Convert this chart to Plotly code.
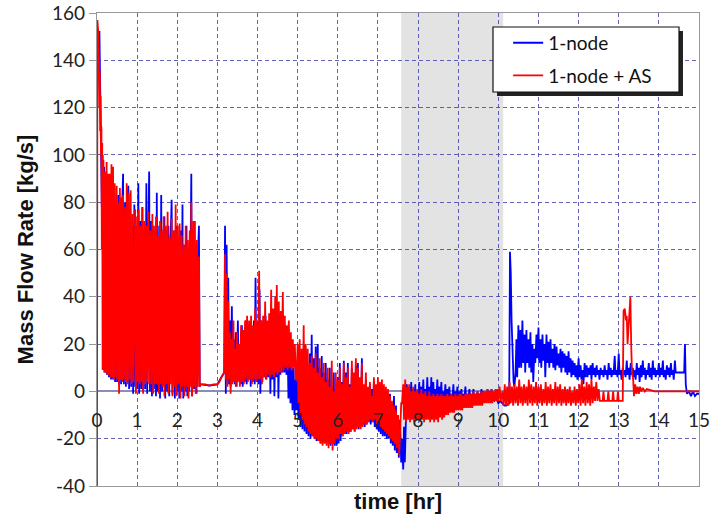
import plotly.graph_objects as go

# ---------------- data (time [hr], mass flow rate [kg/s]) ----------------
red_a = [(0,-42),(0.01,157),(0.03,152),(0.05,140),(0.06,120),(0.07,135),(0.08,110),(0.09,125),(0.1,100),(0.11,112),(0.12,60),(0.13,105),(0.14,9),(0.16,98),(0.18,8),(0.2,93),(0.22,8),(0.24,97),(0.26,7),(0.28,92),(0.3,7),(0.32,92),(0.34,6),(0.36,96),(0.38,6),(0.4,95),(0.42,5),(0.44,88),(0.46,6),(0.49,87),(0.51,5),(0.53,80),(0.55,-1),(0.57,86),(0.59,5),(0.61,82),(0.63,4),(0.65,83),(0.67,5),(0.7,78),(0.72,4),(0.74,88),(0.76,3),(0.79,84),(0.81,5),(0.84,85),(0.86,3),(0.89,75),(0.91,4),(0.95,77),(0.97,-1),(1.0,74),(1.02,4),(1.04,77),(1.06,3),(1.09,70),(1.11,4),(1.13,78),(1.15,-1),(1.18,72),(1.2,3),(1.23,70),(1.25,4),(1.28,76),(1.3,3),(1.33,68),(1.35,3),(1.38,75),(1.4,-1),(1.42,70),(1.44,3),(1.47,74),(1.49,3),(1.52,66),(1.54,-1),(1.57,72),(1.59,3),(1.62,68),(1.64,2),(1.66,74),(1.68,-2),(1.71,70),(1.73,3),(1.76,76),(1.78,-1),(1.81,65),(1.83,3),(1.86,73),(1.88,-2),(1.91,68),(1.93,2),(1.96,79),(1.98,-2),(2.01,70),(2.03,3),(2.06,71),(2.08,-3),(2.11,66),(2.13,2),(2.16,62),(2.18,-2),(2.21,70),(2.23,2),(2.26,64),(2.28,-3),(2.31,68),(2.33,2),(2.35,80),(2.37,-2),(2.40,72),(2.42,2),(2.44,72),(2.46,-1),(2.49,64),(2.51,2),(2.54,57),(2.56,2),(2.58,3)]
red_b = [(2.6,3),(2.7,3),(2.8,2.5),(2.9,3),(3.0,3),(3.05,4),(3.1,6),(3.15,8)]
red_c = [(3.17,8),(3.19,58),(3.21,5),(3.23,50),(3.25,2),(3.27,38),(3.29,5),(3.31,25),(3.33,-1),(3.35,22),(3.37,3),(3.4,30),(3.42,4),(3.44,18),(3.46,2),(3.49,25),(3.51,4),(3.54,20),(3.56,2),(3.59,28),(3.61,4),(3.64,26),(3.66,3),(3.69,30),(3.71,5),(3.74,32),(3.76,4),(3.79,30),(3.81,5),(3.84,32),(3.86,3),(3.89,28),(3.91,5),(3.94,35),(3.96,4),(3.99,30),(4.01,5),(4.04,51),(4.06,5),(4.09,30),(4.11,3),(4.14,32),(4.16,6),(4.19,38),(4.21,5),(4.24,30),(4.26,7),(4.29,33),(4.31,6),(4.34,43),(4.36,7),(4.39,35),(4.41,6),(4.44,40),(4.46,8),(4.48,45),(4.5,7),(4.53,38),(4.55,8),(4.58,34),(4.6,8),(4.63,42),(4.65,9),(4.68,32),(4.7,10),(4.73,28),(4.75,9),(4.78,30),(4.8,10),(4.83,25),(4.85,9),(4.88,22),(4.9,10),(4.93,20),(4.95,5)]
red_d = [(4.97,5),(5.0,20),(5.02,-5),(5.05,22),(5.07,-10),(5.1,18),(5.12,-12),(5.15,28),(5.17,-14),(5.2,20),(5.22,-15),(5.25,18),(5.27,-17),(5.3,12),(5.32,-18),(5.35,15),(5.37,-19),(5.4,10),(5.42,-20),(5.45,16),(5.47,-20),(5.5,8),(5.52,-21),(5.55,14),(5.57,-22),(5.6,6),(5.62,-23),(5.65,12),(5.67,-22),(5.7,4),(5.72,-23),(5.75,10),(5.77,-24),(5.8,2),(5.82,-22),(5.85,13),(5.87,-25),(5.9,0),(5.92,-22),(5.95,8),(5.97,-20),(6.0,5),(6.02,-20),(6.05,10),(6.07,-18),(6.1,3),(6.12,-19),(6.15,12),(6.17,-18),(6.2,6),(6.22,-17),(6.25,10),(6.27,-18),(6.3,2),(6.32,-17),(6.35,13),(6.37,-16),(6.4,8),(6.42,-17),(6.45,14),(6.47,-16),(6.5,10),(6.52,-15),(6.55,6),(6.57,-16),(6.6,12),(6.62,-15),(6.65,3),(6.67,-14),(6.7,8),(6.72,-14),(6.75,2),(6.77,-13),(6.8,4),(6.82,-12),(6.85,-2),(6.87,-13),(6.9,6),(6.92,-12),(6.95,3),(6.97,-14),(7.0,6),(7.02,-13),(7.05,4),(7.07,-15),(7.1,5),(7.12,-16),(7.15,3),(7.17,-17),(7.2,2),(7.22,-18),(7.25,1),(7.27,-19),(7.3,-2),(7.32,-20),(7.35,-4),(7.37,-21),(7.4,-6),(7.42,-22),(7.45,-8),(7.47,-24),(7.5,-10),(7.53,-27),(7.56,-15),(7.58,-5)]
red_e = [(7.6,-5),(7.63,3),(7.65,-12),(7.68,5),(7.7,-13),(7.73,2),(7.75,-12),(7.78,3),(7.8,-13),(7.83,0),(7.85,-12),(7.88,2),(7.9,-13),(7.93,0),(7.95,-12),(7.98,1),(8.0,-12),(8.03,-1),(8.05,-13),(8.08,1),(8.1,-12),(8.13,-1),(8.15,-13),(8.18,0),(8.2,-12),(8.23,-2),(8.25,-12),(8.28,0),(8.3,-13),(8.33,-2),(8.35,-12),(8.38,-1),(8.4,-13),(8.43,-2),(8.45,-12),(8.48,-1),(8.5,-13),(8.53,-2),(8.55,-11),(8.58,-1),(8.6,-12),(8.63,-2),(8.65,-11),(8.68,-2),(8.7,-10),(8.73,-1),(8.75,-10),(8.78,-2),(8.8,-9),(8.83,-1),(8.85,-9),(8.88,-2),(8.9,-9),(8.93,-1),(8.95,-8),(8.98,-2),(9.0,-8),(9.03,-1),(9.05,-8),(9.08,-1),(9.1,-8),(9.13,-2),(9.15,-7),(9.18,-1),(9.2,-7),(9.23,-1),(9.25,-7),(9.28,-1),(9.3,-7),(9.33,-1),(9.35,-7),(9.38,0),(9.4,-6),(9.43,-1),(9.45,-6),(9.48,0),(9.5,-6),(9.53,-1),(9.55,-6),(9.58,0),(9.6,-6),(9.63,0),(9.65,-5),(9.68,0),(9.7,-5),(9.73,1),(9.75,-5),(9.78,0),(9.8,-5),(9.83,1),(9.85,-5),(9.88,0),(9.9,-4),(9.93,1),(9.95,-4),(9.98,1),(10.0,-4),(10.03,2),(10.06,-4),(10.1,0)]
red_f = [(10.13,-6),(10.16,3),(10.19,-6),(10.22,2),(10.25,-6),(10.28,4),(10.31,-5),(10.34,2),(10.37,-6),(10.4,3),(10.43,-5),(10.46,2),(10.49,-6),(10.52,5),(10.55,-5),(10.58,2),(10.61,-6),(10.64,3),(10.67,-5),(10.7,2),(10.73,-6),(10.76,5),(10.79,-5),(10.82,3),(10.85,-6),(10.88,2),(10.91,-5),(10.94,4),(10.97,-6),(11.0,2),(11.03,-5),(11.06,3),(11.09,-6),(11.12,1),(11.15,-5),(11.18,4),(11.21,-6),(11.24,2),(11.27,-5),(11.3,3),(11.33,-6),(11.36,1),(11.39,-5),(11.42,4),(11.45,-6),(11.48,2),(11.51,-5),(11.54,3),(11.57,-6),(11.6,1),(11.63,-5),(11.66,2),(11.69,-6),(11.72,1),(11.75,-5),(11.78,2),(11.81,-6),(11.84,0),(11.87,-5),(11.9,2),(11.93,-6),(11.96,1),(11.99,-5),(12.02,3),(12.05,-6),(12.08,5),(12.11,-5),(12.14,2),(12.17,-6),(12.2,4),(12.23,-5),(12.26,3),(12.29,-6),(12.32,5),(12.35,-5),(12.38,2),(12.41,-4),(12.44,4),(12.47,-4),(12.5,1),(12.53,-4),(12.6,-4),(12.62,0),(12.64,-4),(12.72,-4),(12.74,0),(12.76,-4),(12.84,-4),(12.86,0),(12.88,-4),(12.96,-4),(12.98,0),(13.0,-4),(13.08,-4)]
red_g = [(13.1,-4),(13.12,34),(13.15,35),(13.18,30),(13.2,32),(13.22,20),(13.25,28),(13.27,38),(13.29,40),(13.31,20),(13.33,8),(13.36,5),(13.38,-2),(13.41,3),(13.44,-1),(13.47,2),(13.5,-1),(13.53,2),(13.56,0),(13.6,1.5),(13.65,0),(13.7,1),(13.8,0.5),(13.9,0),(14.2,0),(14.6,0),(15,0)]

blue_a = [(0.02,140),(0.04,152),(0.06,152),(0.08,130),(0.1,110),(0.12,78),(0.14,100),(0.16,48),(0.18,95),(0.2,8),(0.23,90),(0.25,7),(0.28,85),(0.3,6),(0.33,88),(0.35,5),(0.38,82),(0.4,5),(0.43,85),(0.45,4),(0.48,80),(0.5,4),(0.53,83),(0.55,3),(0.58,78),(0.6,3),(0.63,80),(0.65,92),(0.67,3),(0.7,80),(0.72,2),(0.75,78),(0.78,87),(0.8,1),(0.83,75),(0.85,2),(0.88,70),(0.9,-1),(0.93,79),(0.95,2),(0.98,70),(1.0,1),(1.03,88),(1.05,-1),(1.08,72),(1.1,1),(1.13,78),(1.15,0),(1.18,68),(1.2,1),(1.23,88),(1.25,-1),(1.28,70),(1.3,93),(1.32,0),(1.35,72),(1.37,-2),(1.4,70),(1.42,1),(1.45,68),(1.47,-2),(1.49,84),(1.51,0),(1.55,70),(1.57,-3),(1.6,83),(1.62,0),(1.65,65),(1.68,74),(1.7,-3),(1.73,68),(1.75,0),(1.78,70),(1.8,-2),(1.83,62),(1.86,81),(1.88,-1),(1.92,68),(1.94,-3),(1.97,70),(2.0,0),(2.03,64),(2.05,-3),(2.08,68),(2.1,0),(2.13,79),(2.15,-3),(2.18,62),(2.2,0),(2.23,70),(2.25,-2),(2.28,60),(2.3,0),(2.35,92),(2.37,-2),(2.4,66),(2.42,1),(2.46,62),(2.48,-1),(2.51,55),(2.54,70),(2.56,2),(2.58,3)]
blue_b = [(2.6,3),(2.8,2.5),(3.0,3),(3.1,6),(3.15,8)]
blue_c = [(3.17,8),(3.19,70),(3.21,-1),(3.23,62),(3.25,5),(3.27,48),(3.29,3),(3.31,30),(3.33,2),(3.36,36),(3.38,4),(3.41,22),(3.43,3),(3.46,25),(3.48,2),(3.51,30),(3.53,5),(3.56,20),(3.58,3),(3.61,28),(3.63,2),(3.66,25),(3.68,4),(3.71,30),(3.73,3),(3.76,22),(3.78,5),(3.81,28),(3.83,2),(3.86,26),(3.88,4),(3.91,30),(3.93,3),(3.95,48),(3.97,4),(4.0,28),(4.02,3),(4.05,43),(4.07,-1),(4.1,30),(4.12,4),(4.15,25),(4.17,6),(4.2,32),(4.22,5),(4.25,28),(4.27,6),(4.3,30),(4.32,-1),(4.35,32),(4.37,5),(4.4,28),(4.42,-2),(4.45,30),(4.47,6),(4.5,35),(4.52,-3),(4.55,28),(4.57,7),(4.6,30),(4.62,8),(4.65,25),(4.67,8),(4.7,22),(4.72,7),(4.75,18),(4.77,-3),(4.8,15),(4.82,-5),(4.85,12),(4.87,-8),(4.9,10),(4.92,-10),(4.95,5)]
blue_d = [(4.97,-8),(5.0,5),(5.02,-12),(5.05,8),(5.07,-15),(5.1,12),(5.12,-16),(5.15,15),(5.17,-17),(5.2,18),(5.22,-18),(5.25,10),(5.27,-19),(5.3,16),(5.32,-20),(5.35,24),(5.37,-19),(5.4,14),(5.42,-20),(5.45,19),(5.47,-21),(5.5,20),(5.52,-21),(5.55,10),(5.57,-22),(5.6,15),(5.62,-21),(5.65,8),(5.67,-22),(5.7,12),(5.72,-21),(5.75,5),(5.77,-22),(5.8,10),(5.82,-23),(5.85,2),(5.87,-22),(5.9,8),(5.92,-23),(5.95,0),(5.97,-23),(6.0,6),(6.02,-22),(6.05,12),(6.07,-21),(6.1,4),(6.12,-19),(6.15,13),(6.17,-18),(6.2,8),(6.22,-18),(6.25,12),(6.27,-17),(6.3,3),(6.32,-17),(6.35,10),(6.37,-16),(6.4,6),(6.42,-17),(6.45,11),(6.47,-15),(6.5,12),(6.52,-16),(6.55,4),(6.57,-15),(6.6,14),(6.62,-14),(6.65,2),(6.67,-15),(6.7,5),(6.72,-14),(6.75,0),(6.77,-13),(6.8,3),(6.82,-14),(6.85,1),(6.87,-13),(6.9,4),(6.92,-15),(6.95,2),(6.97,-16),(7.0,3),(7.02,-17),(7.05,1),(7.07,-18),(7.1,2),(7.12,-19),(7.15,0),(7.17,-19),(7.2,-1),(7.22,-20),(7.25,-3),(7.27,-20),(7.3,-1),(7.32,-22),(7.35,-5),(7.37,-23),(7.4,-2),(7.42,-25),(7.45,-6),(7.47,-26),(7.5,-10),(7.52,-28),(7.55,-12),(7.58,-30),(7.6,-20),(7.63,-33),(7.65,-15),(7.67,-30)]
blue_e = [(7.7,-10),(7.72,3),(7.75,-10),(7.78,2),(7.8,-9),(7.83,4),(7.85,-10),(7.88,1),(7.9,-9),(7.93,3),(7.95,-8),(7.98,0),(8.0,-9),(8.03,4),(8.05,-8),(8.08,2),(8.1,-8),(8.13,5),(8.15,-7),(8.18,1),(8.2,-8),(8.23,6),(8.25,-7),(8.28,2),(8.3,-8),(8.33,6),(8.35,-6),(8.38,4),(8.4,-7),(8.43,1),(8.45,-6),(8.48,5),(8.5,-7),(8.53,2),(8.55,-6),(8.58,4),(8.6,-6),(8.63,0),(8.65,-6),(8.68,3),(8.7,-5),(8.73,1),(8.75,-6),(8.78,2),(8.8,-5),(8.83,-1),(8.85,-5),(8.88,3),(8.9,-5),(8.93,0),(8.95,-5),(8.98,2),(9.0,-5),(9.03,0),(9.05,-4),(9.08,1),(9.1,-5),(9.13,-1),(9.15,-4),(9.18,2),(9.2,-4),(9.23,-1),(9.25,-4),(9.28,1),(9.3,-4),(9.33,-1),(9.35,-4),(9.38,1),(9.4,-4),(9.43,-1),(9.45,-4),(9.48,0),(9.5,-4),(9.53,-1),(9.55,-3),(9.58,1),(9.6,-4),(9.63,0),(9.65,-3),(9.68,-1),(9.7,-4),(9.73,1),(9.75,-3),(9.78,0),(9.8,-4),(9.83,1),(9.85,-3),(9.9,-4),(9.95,-3),(10.0,-5),(10.05,-4),(10.1,-5),(10.15,-6),(10.2,-6),(10.25,-5)]
blue_f = [(10.27,-5),(10.29,59),(10.31,50),(10.33,30),(10.36,10),(10.38,4),(10.4,2),(10.43,8),(10.45,22),(10.47,6),(10.5,28),(10.52,10),(10.55,26),(10.57,10),(10.6,30),(10.62,12),(10.65,24),(10.67,8),(10.7,26),(10.72,12),(10.75,22),(10.77,10),(10.8,25),(10.82,8),(10.85,20),(10.87,4),(10.9,18),(10.92,12),(10.95,24),(10.97,14),(11.0,27),(11.02,12),(11.05,22),(11.07,10),(11.1,24),(11.12,13),(11.15,20),(11.17,6),(11.2,24),(11.22,12),(11.25,21),(11.27,10),(11.3,22),(11.32,12),(11.35,18),(11.37,10),(11.4,20),(11.42,9),(11.45,19),(11.47,11),(11.5,16),(11.52,10),(11.55,18),(11.57,8),(11.6,17),(11.62,10),(11.65,16),(11.67,8),(11.7,15),(11.72,7),(11.75,17),(11.77,8),(11.8,14),(11.82,6),(11.85,13),(11.87,7),(11.9,12),(11.92,6),(11.95,11),(11.97,5),(12.0,14),(12.02,6),(12.05,11),(12.07,5),(12.1,9),(12.12,3),(12.15,12),(12.17,6),(12.2,11),(12.22,6),(12.25,10),(12.27,7),(12.3,11),(12.32,5),(12.35,12),(12.37,7),(12.4,10),(12.42,6),(12.45,11),(12.47,7),(12.5,9),(12.52,5),(12.55,10),(12.57,7),(12.6,9),(12.62,6),(12.65,11),(12.67,7),(12.7,9),(12.72,5),(12.75,12),(12.77,7),(12.8,10),(12.82,6),(12.85,9),(12.87,7),(12.9,15),(12.92,7),(12.95,9),(12.97,6),(13.0,16),(13.02,7),(13.05,9),(13.07,5),(13.1,10),(13.12,7),(13.15,9),(13.17,6),(13.2,13),(13.22,7),(13.25,10),(13.27,5),(13.3,12),(13.32,7),(13.35,10),(13.37,6),(13.4,9),(13.42,5),(13.45,12),(13.47,7),(13.5,10),(13.52,4),(13.55,11),(13.57,6),(13.6,13),(13.62,7),(13.65,10),(13.67,5),(13.7,9),(13.72,7),(13.75,12),(13.77,6),(13.8,10),(13.82,5),(13.85,13),(13.87,7),(13.9,10),(13.92,6),(13.95,9),(13.97,7),(14.0,12),(14.02,6),(14.05,10),(14.07,7),(14.1,13),(14.12,6),(14.15,9),(14.17,5),(14.2,11),(14.22,7),(14.25,10),(14.27,6),(14.3,12),(14.32,7),(14.35,9),(14.37,5),(14.4,13),(14.42,8),(14.45,8),(14.5,8),(14.55,8),(14.6,8),(14.63,8),(14.65,20),(14.67,3),(14.7,-1),(14.75,0),(14.8,-2),(14.85,0),(14.9,-2),(14.95,-1),(15.0,-1)]

series_names = ["1-node", "1-node + AS"]
series_colors = ["#0000ff", "#ff0000"]
x_ticks = list(range(0, 16))
y_ticks = list(range(-40, 161, 20))
y_tick_text = ["-40", "-20", "0", "20", "40", "60", "80", "100", "120", "140", "160"]
shade_span = (7.58, 10.12)

blue_pts = blue_a + blue_b + blue_c + blue_d + blue_e + blue_f
red_pts = red_a + red_b + red_c + red_d + red_e + red_f + red_g

fig = go.Figure()
for name, color, pts in [(series_names[0], series_colors[0], blue_pts),
                         (series_names[1], series_colors[1], red_pts)]:
    fig.add_trace(go.Scatter(
        x=[p[0] for p in pts], y=[p[1] for p in pts], mode="lines", name=name,
        legendgroup=name, line=dict(color=color, width=1.8), cliponaxis=True))

# invisible trace on secondary x axis to carry the tick labels at y = 0
fig.add_trace(go.Scatter(x=[0, 15], y=[0, 0], xaxis="x2", mode="lines",
                         line=dict(width=0), showlegend=False, hoverinfo="skip"))

grid_col = "rgba(70,70,175,0.85)"
title_font = dict(size=22, family="Liberation Sans, Arial, sans-serif", color="#111")
fig.update_layout(
    width=720, height=518,
    margin=dict(l=97, r=21, t=13, b=32),
    paper_bgcolor="white", plot_bgcolor="white",
    font=dict(family="Lato, 'Open Sans', sans-serif", color="#222", size=19),
    showlegend=True,
    legend=dict(x=0.683, y=0.977, xanchor="left", yanchor="top",
                bgcolor="rgba(0,0,0,0)", borderwidth=0,
                font=dict(size=19, color="#111"), itemwidth=30,
                tracegroupgap=5),
    xaxis=dict(range=[0, 15], tickvals=x_ticks, showticklabels=False,
               showgrid=True, gridcolor=grid_col, griddash="4px,3px", gridwidth=1,
               zeroline=False, showline=True, linecolor="#999", linewidth=1.2,
               mirror=True, ticks="", automargin=False,
               title=dict(text="<b>time [hr]</b>", font=title_font, standoff=7)),
    xaxis2=dict(range=[0, 15], overlaying="x", anchor="free", position=0.2,
                side="bottom", tickvals=x_ticks, ticktext=[str(v) for v in x_ticks],
                ticks="outside", ticklen=12, tickcolor="rgba(0,0,0,0)",
                showgrid=False, zeroline=False, showline=False, automargin=False,
                ticklabeloverflow="allow",
                tickfont=dict(size=19, color="#222")),
    yaxis=dict(range=[-40, 160], tickvals=y_ticks, ticktext=y_tick_text, showgrid=True,
               gridcolor=grid_col, griddash="4px,3px", gridwidth=1,
               zeroline=True, zerolinecolor="#8c8cba", zerolinewidth=1.5,
               showline=True, linecolor="#999", linewidth=1.2, mirror=True,
               ticks="outside", ticklen=7, tickcolor="#999", automargin=False,
               ticklabeloverflow="allow",
               tickfont=dict(size=19, color="#222"),
               title=dict(text="<b>Mass Flow Rate [kg/s]</b>", font=title_font, standoff=12)),
    shapes=[
        dict(type="rect", xref="x", yref="paper", x0=shade_span[0], x1=shade_span[1],
             y0=0, y1=1, fillcolor="#e3e3e3", line=dict(width=0), layer="below"),
        dict(type="rect", xref="paper", yref="paper", x0=0.6645, x1=0.9734,
             y0=0.8245, y1=0.9619, fillcolor="#222", line=dict(width=0), layer="above"),
        dict(type="rect", xref="paper", yref="paper", x0=0.6578, x1=0.9668,
             y0=0.833, y1=0.9704, fillcolor="white", line=dict(color="#111", width=1.2), layer="above"),
    ],
)

# remove the browser's default 8px page margin so the 720x518 figure fills the window
fig.write_html("out.html", config={"displayModeBar": False},
               post_script="document.body.style.margin='0px';")
